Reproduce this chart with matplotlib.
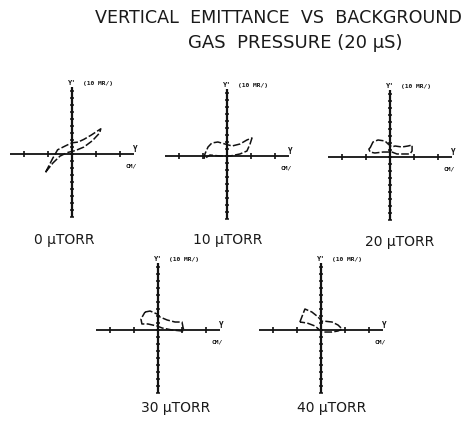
#!/usr/bin/env python3
"""Vertical emittance phase-space traces at five background gas pressures."""

import matplotlib

matplotlib.use("Agg")
import matplotlib.pyplot as plt
import numpy as np

# pressure settings (microtorr) and the traced emittance boundaries
# x: Y in cm (one tick per unit), y: Y' in 10 mrad (one tick per unit)
pressures = [0, 10, 20, 30, 40]

loop_0_x = [-1.1, -0.8, -0.6, -0.25, 0.0, 0.25, 0.5, 0.8, 1.2,
            1.15, 0.85, 0.5, 0.15, -0.2, -0.5, -0.8, -1.1]
loop_0_y = [-2.6, -0.6, 0.6, 1.2, 1.6, 1.7, 2.1, 2.7, 3.6,
            3.0, 1.9, 1.0, 0.5, 0.2, -0.3, -1.3, -2.6]

loop_10_x = [-0.95, -0.92, -0.79, -0.63, -0.38, -0.08, 0.21, 0.54, 0.83, 1.04,
             0.96, 0.83, 0.54, 0.13, -0.29, -0.71, -0.95]
loop_10_y = [-0.4, 0.29, 1.29, 1.86, 2.0, 1.71, 1.43, 1.71, 2.29, 2.57,
             1.71, 0.71, 0.29, 0.0, 0.0, 0.14, -0.4]

loop_20_x = [-0.83, -0.71, -0.5, -0.21, -0.08, 0.08, 0.21, 0.5, 0.75, 0.92,
             0.92, 0.83, 0.63, 0.29, 0.08, -0.29, -0.63, -0.83, -0.88, -0.83]
loop_20_y = [1.29, 2.14, 2.43, 2.29, 1.86, 1.43, 1.57, 1.43, 1.57, 1.71,
             0.86, 0.43, 0.43, 0.43, 0.71, 0.71, 0.57, 0.71, 1.14, 1.29]

loop_30_x = [-0.54, -0.33, -0.04, 0.08, 0.38, 0.71, 1.0, 1.04, 1.08,
             1.0, 0.58, 0.17, -0.04, -0.42, -0.67, -0.71, -0.54]
loop_30_y = [2.57, 2.71, 2.29, 1.86, 1.43, 1.14, 1.14, 0.43, -0.14,
             -0.14, 0.0, 0.29, 0.57, 0.86, 0.86, 1.57, 2.57]

loop_40_x = [-0.88, -0.67, -0.38, -0.17, -0.04, 0.04, 0.08, 0.46, 0.71, 0.88,
             0.71, 0.46, 0.04, -0.25, -0.58, -0.88]
loop_40_y = [1.14, 3.0, 2.57, 2.0, 1.57, 1.14, 1.29, 1.14, 0.71, 0.14,
             -0.14, -0.29, -0.29, 0.57, 1.0, 1.14]

loops = [
    (loop_0_x, loop_0_y),
    (loop_10_x, loop_10_y),
    (loop_20_x, loop_20_y),
    (loop_30_x, loop_30_y),
    (loop_40_x, loop_40_y),
]

# axis extents in tick units
y_ticks = np.arange(-2, 3)
yp_ticks = np.arange(-9, 10)

W, H = 469, 427
PX_X, PX_Y = 24.0, 7.0  # pixels per tick unit
XLIM, YLIM = 3.0, 10.5

# panel origins (pixels from top-left) and caption positions
origins = [(72, 155), (227, 157), (390, 158), (158, 331), (321, 331)]
captions = [(64, 240), (228, 240), (400, 242), (176, 408), (332, 408)]

fig = plt.figure(figsize=(W / 100, H / 100), dpi=100, facecolor="white")

ink = "#111111"
for (ox, oy), (lx, ly), (loop_x, loop_y), p in zip(origins, captions, loops, pressures):
    w = 2 * XLIM * PX_X
    h = 2 * YLIM * PX_Y
    ax = fig.add_axes([(ox - w / 2) / W, (H - oy - h / 2) / H, w / W, h / H])
    ax.set_xlim(-XLIM, XLIM)
    ax.set_ylim(-YLIM, YLIM)
    ax.set_axis_off()

    # hand-ruled axes with tick marks
    ax.plot([-2.6, 2.6], [0, 0], color=ink, lw=1.3, solid_capstyle="butt")
    ax.plot([0, 0], [-9.0, 9.6], color=ink, lw=1.6, solid_capstyle="butt")
    ax.plot(y_ticks, np.zeros_like(y_ticks), ls="none", marker="|", ms=4, mew=1.2, color=ink)
    ax.plot(np.zeros_like(yp_ticks), yp_ticks, ls="none", marker="_", ms=3.5, mew=1.1, color=ink)

    # emittance boundary
    ax.plot(loop_x, loop_y, color=ink, lw=1.1, ls=(0, (5, 1.5)))

    ax.text(0.0, 9.8, "Y'", fontsize=5, weight="bold", family="DejaVu Sans Mono",
            ha="center", va="bottom", color=ink, clip_on=False)
    ax.text(0.45, 9.8, "(10 MR/)", fontsize=4.5, weight="bold", family="DejaVu Sans Mono",
            ha="left", va="bottom", color=ink, clip_on=False)
    ax.text(2.62, 0.15, "Y", fontsize=5.5, weight="bold", family="DejaVu Sans Mono",
            ha="center", va="bottom", color=ink, clip_on=False)
    ax.text(2.45, -1.2, "CM/", fontsize=4.5, weight="bold", family="DejaVu Sans Mono",
            ha="center", va="top", color=ink, clip_on=False)

    fig.text(lx / W, 1 - ly / H, f"{p} \u03bcTORR", fontsize=10, ha="center", va="center",
             color="#1a1a1a", family="DejaVu Sans")

fig.text(278 / W, 1 - 18 / H, "VERTICAL  EMITTANCE  VS  BACKGROUND", fontsize=12.6,
         ha="center", va="center", color="#1a1a1a")
fig.text(295 / W, 1 - 43 / H, "GAS  PRESSURE (20 \u03bcS)", fontsize=13,
         ha="center", va="center", color="#1a1a1a")

fig.savefig("out.png", dpi=100, facecolor="white")
plt.close(fig)
